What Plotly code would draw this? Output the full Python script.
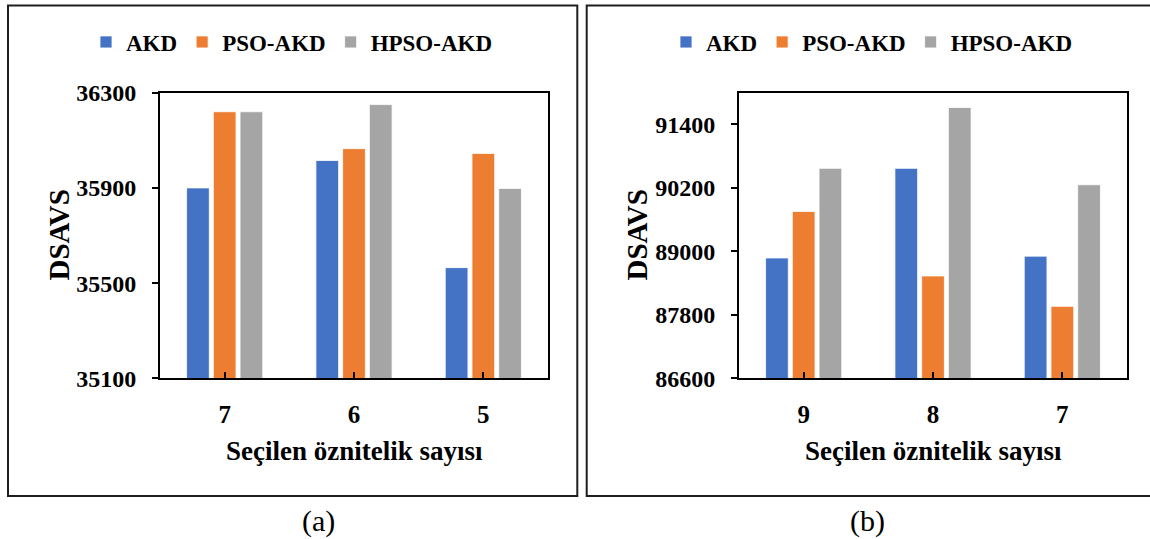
import plotly.graph_objects as go

# Panel (a)
cats_a = ["7", "6", "5"]
akd_a = [35900, 36015, 35565]
pso_a = [36220, 36065, 36045]
hpso_a = [36220, 36250, 35898]
yticks_a = [35100, 35500, 35900, 36300]

# Panel (b)
cats_b = ["9", "8", "7"]
akd_b = [88875, 90570, 88910]
pso_b = [89755, 88535, 87960]
hpso_b = [90570, 91720, 90260]
yticks_b = [86600, 87800, 89000, 90200, 91400]

series_names = ["AKD", "PSO-AKD", "HPSO-AKD"]
colors = ["#4472C4", "#ED7D31", "#A5A5A5"]

x_title = "Seçilen öznitelik sayısı"
y_title = "DSAVS"

W, H = 1150, 539
FONT = "Liberation Serif, Times New Roman, serif"


def px_x(v):
    return v / W


def px_y(v):
    return 1 - v / H


fig = go.Figure()

for name, col, ya, yb in zip(series_names, colors, [akd_a, pso_a, hpso_a], [akd_b, pso_b, hpso_b]):
    fig.add_trace(go.Bar(x=cats_a, y=ya, name=name, marker=dict(color=col, line=dict(color="white", width=0.8)),
                         xaxis="x", yaxis="y", legend="legend"))
    fig.add_trace(go.Bar(x=cats_b, y=yb, name=name, marker=dict(color=col, line=dict(color="white", width=0.8)),
                         xaxis="x2", yaxis="y2", legend="legend2"))

y_dom = [px_y(378.3), px_y(92.7)]

common_x = dict(type="category", showline=True, linecolor="black", linewidth=2, mirror=True,
                ticks="inside", ticklen=6, tickwidth=2, tickcolor="black",
                tickfont=dict(family=FONT, size=25, color="black", weight="bold"),
                ticklabelstandoff=13, showgrid=False, automargin=False)
common_y = dict(showline=True, linecolor="black", linewidth=2, mirror=True,
                ticks="outside", ticklen=6, tickwidth=2, tickcolor="black", tickformat="d",
                tickfont=dict(family=FONT, size=24, color="black", weight="bold"),
                ticklabelstandoff=11, showgrid=False, zeroline=False, automargin=False)

legend_common = dict(orientation="h", xanchor="center", yanchor="middle",
                     font=dict(family=FONT, size=23, color="black", weight="bold"),
                     bgcolor="rgba(0,0,0,0)")

fig.update_layout(
    width=W, height=H,
    margin=dict(l=0, r=0, t=0, b=0, autoexpand=False),
    paper_bgcolor="white", plot_bgcolor="white",
    barmode="group", bargap=0.38, bargroupgap=0.15,
    xaxis=dict(domain=[px_x(160), px_x(548)], anchor="y", **common_x),
    yaxis=dict(domain=y_dom, anchor="x", range=[35100, 36300], tickvals=yticks_a, **common_y),
    xaxis2=dict(domain=[px_x(739), px_x(1127)], anchor="y2", **common_x),
    yaxis2=dict(domain=y_dom, anchor="x2", range=[86600, 92000], tickvals=yticks_b, **common_y),
    legend=dict(x=px_x(292), y=px_y(42), **legend_common),
    legend2=dict(x=px_x(872), y=px_y(42), **legend_common),
    showlegend=True,
)

# Panel frames
fig.add_shape(type="rect", xref="paper", yref="paper",
              x0=px_x(8), x1=px_x(577.3), y0=px_y(496), y1=px_y(5.5),
              line=dict(color="#1e1e1e", width=2), layer="below")
fig.add_shape(type="rect", xref="paper", yref="paper",
              x0=px_x(586.7), x1=px_x(1156), y0=px_y(496), y1=px_y(5.5),
              line=dict(color="#1e1e1e", width=2), layer="below")

# Axis titles and panel captions
for cx in (354, 933):
    fig.add_annotation(text=x_title, xref="paper", yref="paper", x=px_x(cx), y=px_y(451),
                       xanchor="center", yanchor="middle", showarrow=False,
                       font=dict(family=FONT, size=27, color="black", weight="bold"))
for cx in (58, 636):
    fig.add_annotation(text=y_title, xref="paper", yref="paper", x=px_x(cx), y=px_y(235.5),
                       xanchor="center", yanchor="middle", showarrow=False, textangle=-90,
                       font=dict(family=FONT, size=29, color="black", weight="bold"))
for cx, lab in ((318, "(a)"), (867, "(b)")):
    fig.add_annotation(text=lab, xref="paper", yref="paper", x=px_x(cx), y=px_y(521),
                       xanchor="center", yanchor="middle", showarrow=False,
                       font=dict(family=FONT, size=30, color="black"))

fig.write_html("out.html")
